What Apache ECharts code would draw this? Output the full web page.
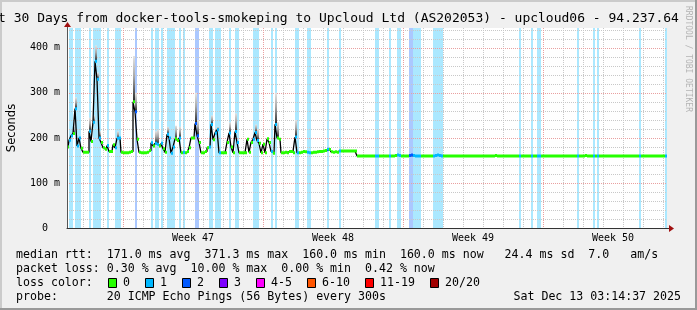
<!DOCTYPE html>
<html><head><meta charset="utf-8">
<script src="https://cdn.jsdelivr.net/npm/echarts@6/dist/echarts.min.js"></script>
<style>html,body{margin:0;padding:0;background:#f0f0f0;overflow:hidden}#c{width:697px;height:310px}</style>
</head><body><div id="c"></div>
<script>
// ---- data ----
// one value per 0.1 day (2.4 h) step, 30 days; median rtt in ms
const STEP_DAYS = 0.1;
const medianMs = [
180,195,205,210,265,182,200,177,168,168,
168,215,192,235,370,330,200,190,178,175,
183,170,170,185,178,199,200,168,167,167,
167,168,170,280,258,197,168,167,167,167,
168,172,189,182,188,186,182,188,176,168,
208,200,166,180,198,194,200,167,168,167,
170,178,200,200,232,205,190,167,167,170,
178,180,230,196,211,218,167,167,167,167,
190,211,180,167,214,190,167,167,167,167,
197,168,190,197,212,194,188,167,186,167,
198,190,170,166,230,200,197,167,167,168,
167,170,170,167,202,167,167,168,170,169,
168,167,167,168,168,169,170,170,171,172,
175,174,169,168,169,168,171,171,171,171,
171,171,171,171,171,160,160,160,160,160,
160,160,160,160,160,160,160,160,160,160,
160,160,160,160,161,162,161,160,160,160,
160,161,162,161,160,160,160,160,160,160,
160,160,160,160,161,162,161,160,160,160,
160,160,160,160,160,160,160,160,160,160,
160,160,160,160,160,160,160,160,160,160,
160,160,160,160,161,160,160,160,160,160,
160,160,160,160,160,160,160,160,160,160,
160,160,160,160,160,160,160,160,160,160,
160,160,160,160,160,160,160,160,160,160,
160,160,160,160,160,160,160,160,160,161,
160,160,160,160,160,160,160,160,160,160,
160,160,160,160,160,160,160,160,160,160,
160,160,160,160,160,160,160,160,160,160,
160,160,160,160,160,160,160,160,160,160
];
// [step index, lost pings out of 20]
const lossEvents = [
[1,1],[2,1],[4,1],[5,1],[6,1],[11,1],[13,1],[14,1],[15,1],[16,1],[20,1],[24,1],[25,1],[26,1],
[34,2],[42,1],[44,1],[45,1],[47,1],[50,1],[51,1],[52,1],[53,1],[56,1],[58,1],[64,2],[65,2],
[71,1],[72,1],[74,1],[75,1],[76,1],[81,1],[84,1],[85,1],[93,1],[94,1],[95,1],[102,1],[104,1],
[114,1],[115,1],[120,1],[121,1],[130,1],[136,1],[154,1],[155,1],[161,1],[165,1],[166,1],
[171,2],[172,2],[173,1],[174,1],[175,1],[176,1],[183,1],[184,1],[185,1],[186,1],[187,1],
[226,1],[232,1],[235,1],[236,1],[255,1],[263,1],[265,1],[286,1],[299,1]
];
// [step index, highest ping of the smoke in ms]
const smokePeaks = [
[3,225],[4,290],[11,245],[13,250],[14,405],[15,345],[16,215],[25,215],[33,382],[34,300],
[44,215],[45,218],[50,225],[54,227],[56,225],[64,300],[65,240],[72,250],[74,222],[75,225],
[81,235],[84,255],[94,230],[95,220],[104,300],[105,235],[114,240]
];
const weekLabels = ['Week 47','Week 48','Week 49','Week 50'];
const weekLabelDays = [6.3, 13.3, 20.3, 27.3];
const weekStartDays = [2.8, 9.8, 16.8, 23.8];
const yTickValues = [0, 100, 200, 300, 400];
const lossLegend = [['0','#26ff00'],['1','#00b8ff'],['2','#0059ff'],['3','#7e00ff'],
  ['4-5','#ff00ff'],['6-10','#ff5500'],['11-19','#ff0000'],['20/20','#a10000']];
const statLines = [
  'median rtt:  171.0 ms avg  371.3 ms max  160.0 ms min  160.0 ms now   24.4 ms sd  7.0   am/s',
  'packet loss: 0.30 % avg  10.00 % max  0.00 % min  0.42 % now'
];
const probeLine = 'probe:       20 ICMP Echo Pings (56 Bytes) every 300s';
const stampText = 'Sat Dec 13 03:14:37 2025';
const titleText = 't 30 Days from docker-tools-smokeping to Upcloud Ltd (AS202053) - upcloud06 - 94.237.64';

// ---- helpers ----
const X_MAX = 30, Y_MAX = 444;
const MONO = '"DejaVu Sans Mono", monospace';
function lossColor(n){
  if (n <= 0) return '#26ff00';
  if (n === 1) return '#00b8ff';
  if (n === 2) return '#0059ff';
  if (n === 3) return '#7e00ff';
  if (n <= 5) return '#ff00ff';
  if (n <= 10) return '#ff5500';
  if (n <= 19) return '#ff0000';
  return '#a10000';
}
function hexToRgba(h, a){
  const r = parseInt(h.slice(1,3),16), g = parseInt(h.slice(3,5),16), b = parseInt(h.slice(5,7),16);
  return 'rgba(' + r + ',' + g + ',' + b + ',' + a + ')';
}
const lossByStep = medianMs.map(() => 0);
lossEvents.forEach(([i, n]) => { lossByStep[i] = n; });

const lossBarData = lossEvents.map(([i, n]) => [i * STEP_DAYS, (i + 1) * STEP_DAYS, n]);
const markerData = medianMs.map((m, i) => [i * STEP_DAYS, (i + 1) * STEP_DAYS, m, lossByStep[i]]);
const lineData = medianMs.map((m, i) => [(i + 0.5) * STEP_DAYS, m]);
const smokeData = smokePeaks.map(([i, top]) => [i * STEP_DAYS, (i + 1) * STEP_DAYS, medianMs[i], top]);

const vMinor = [], vMajor = weekStartDays.slice();
for (let d = 0.8; d < X_MAX; d += 1) { const r = Math.round(d * 10) / 10; if (!vMajor.some(x => Math.abs(x - r) < 1e-6)) vMinor.push(r); }
const hMinor = [], hMajor = [100, 200, 300, 400];
for (let v = 20; v <= 440; v += 20) { if (v % 100) hMinor.push(v); }

function vLine(color){
  return function(params, api){
    const d = api.value(0);
    const a = api.coord([d, Y_MAX]), b = api.coord([d, 0]);
    const x = Math.round(a[0]) + 0.5;
    return {type:'line', shape:{x1:x, y1:a[1], x2:x, y2:b[1]}, style:{stroke:color, lineWidth:1, lineDash:[1,1]}};
  };
}
function hLine(color){
  return function(params, api){
    const v = api.value(0);
    const a = api.coord([0, v]), b = api.coord([X_MAX, v]);
    const y = Math.round(a[1]) + 0.5;
    return {type:'line', shape:{x1:a[0], y1:y, x2:b[0], y2:y}, style:{stroke:color, lineWidth:1, lineDash:[1,1]}};
  };
}

const chart = echarts.init(document.getElementById('c'), null, {renderer:'canvas', width:697, height:310});

const graphics = [
  {type:'rect', shape:{x:0,y:0,width:697,height:2}, style:{fill:'#cbcbcb'}, silent:true},
  {type:'rect', shape:{x:0,y:0,width:2,height:310}, style:{fill:'#cbcbcb'}, silent:true},
  {type:'rect', shape:{x:0,y:308,width:697,height:2}, style:{fill:'#999999'}, silent:true},
  {type:'rect', shape:{x:695,y:0,width:2,height:310}, style:{fill:'#999999'}, silent:true},
  {type:'text', x:-2, y:18.5, style:{text:titleText, fill:'#000', fontFamily:MONO, fontSize:13, align:'left', verticalAlign:'middle'}, silent:true},
  {type:'text', x:688, y:6, rotation:-Math.PI/2, style:{text:'RRDTOOL / TOBI OETIKER', fill:'#b4b4b4', fontFamily:MONO, fontSize:8, align:'left', verticalAlign:'middle'}, silent:true},
  {type:'text', x:16, y:255, style:{text:statLines[0], fill:'#000', fontFamily:MONO, fontSize:11.6, align:'left', verticalAlign:'middle'}, silent:true},
  {type:'text', x:16, y:269, style:{text:statLines[1], fill:'#000', fontFamily:MONO, fontSize:11.6, align:'left', verticalAlign:'middle'}, silent:true},
  {type:'text', x:16, y:283, style:{text:'loss color:', fill:'#000', fontFamily:MONO, fontSize:11.6, align:'left', verticalAlign:'middle'}, silent:true},
  {type:'text', x:16, y:297, style:{text:probeLine, fill:'#000', fontFamily:MONO, fontSize:11.6, align:'left', verticalAlign:'middle'}, silent:true},
  {type:'text', x:681, y:297, style:{text:stampText, fill:'#000', fontFamily:MONO, fontSize:11.6, align:'right', verticalAlign:'middle'}, silent:true}
];
let lx = 108;
lossLegend.forEach(([lab, col]) => {
  graphics.push({type:'rect', shape:{x:lx + 0.5, y:278.5, width:8, height:9}, style:{fill:col, stroke:'#000', lineWidth:1}, silent:true});
  graphics.push({type:'text', x:lx + 15, y:283, style:{text:lab, fill:'#000', fontFamily:MONO, fontSize:11.6, align:'left', verticalAlign:'middle'}, silent:true});
  lx += 30 + 7 * lab.length;
});

const option = {
  backgroundColor:'#f0f0f0',
  animation:false,
  grid:{left:67, right:30, top:28, bottom:82, show:true, backgroundColor:'#ffffff', borderWidth:0,
        containLabel:false, outerBoundsMode:'none'},
  xAxis:{
    type:'value', min:0, max:X_MAX, z:10,
    axisLine:{show:true, onZero:false, lineStyle:{color:'#333333', width:1}},
    axisTick:{show:false},
    splitLine:{show:false},
    axisLabel:{
      customValues: weekLabelDays,
      formatter: v => { const k = weekLabelDays.findIndex(d => Math.abs(d - v) < 1e-6); return k >= 0 ? weekLabels[k] : ''; },
      fontFamily:MONO, fontSize:10, color:'#000', margin:5
    }
  },
  yAxis:{
    type:'value', min:0, max:Y_MAX, interval:100, z:10,
    name:'Seconds', nameLocation:'middle', nameGap:49,
    nameTextStyle:{fontFamily:'"DejaVu Sans", sans-serif', fontSize:11.5, color:'#000'},
    axisLine:{show:true, lineStyle:{color:'#555555', width:1}},
    axisTick:{show:false},
    splitLine:{show:false},
    axisLabel:{
      customValues: yTickValues,
      formatter: v => v === 0 ? '0  ' : (v % 100 === 0 ? v + ' m' : ''),
      fontFamily:MONO, fontSize:10, color:'#000', margin:7
    }
  },
  series:[
    {type:'custom', name:'lossbg', z:1, silent:true, clip:true, data:lossBarData,
      renderItem:(params, api) => {
        const a = api.coord([api.value(0), Y_MAX]), b = api.coord([api.value(1), 0]);
        return {type:'rect', shape:{x:a[0], y:a[1], width:b[0]-a[0], height:b[1]-a[1]},
          style:{fill:hexToRgba(lossColor(api.value(2)), 0.33)}};
      }},
    {type:'custom', name:'vminor', z:2, silent:true, data:vMinor.map(d => [d]), renderItem:vLine('#c8c8c8')},
    {type:'custom', name:'hminor', z:2, silent:true, data:hMinor.map(v => [v]), renderItem:hLine('#c8c8c8')},
    {type:'custom', name:'vmajor', z:2, silent:true, data:vMajor.map(d => [d]), renderItem:vLine('#e9a0a0')},
    {type:'custom', name:'hmajor', z:2, silent:true, data:hMajor.map(v => [v]), renderItem:hLine('#e9a0a0')},
    {type:'custom', name:'smoke', z:3, silent:true, clip:true, data:smokeData,
      renderItem:(params, api) => {
        const a = api.coord([api.value(0), api.value(3)]), b = api.coord([api.value(1), api.value(2)]);
        return {type:'rect', shape:{x:a[0], y:a[1], width:b[0]-a[0], height:b[1]-a[1]},
          style:{fill:new echarts.graphic.LinearGradient(0,0,0,1,[
            {offset:0, color:'#e4e4e4'},{offset:0.45, color:'#a8a8a8'},{offset:1, color:'#262626'}])}};
      }},
    {type:'line', name:'median', z:4, silent:true, data:lineData, step:'middle', symbol:'none',
      lineStyle:{color:'#000', width:1.3}},
    {type:'custom', name:'marker', z:5, silent:true, clip:true, data:markerData,
      renderItem:(params, api) => {
        const a = api.coord([api.value(0), api.value(2)]), b = api.coord([api.value(1), api.value(2)]);
        return {type:'rect', shape:{x:a[0], y:a[1]-1.5, width:b[0]-a[0], height:3},
          style:{fill:lossColor(api.value(3))}};
      }}
  ],
  graphic:{elements:graphics}
};
chart.setOption(option);

// axis arrows placed from the library's own coordinate conversion
const pEnd = chart.convertToPixel({gridIndex:0}, [X_MAX, 0]);
const pTop = chart.convertToPixel({gridIndex:0}, [0, Y_MAX]);
chart.setOption({graphic:{elements:[
  {type:'line', id:'xext', shape:{x1:pEnd[0], y1:pEnd[1]+0.5, x2:pEnd[0]+3, y2:pEnd[1]+0.5}, style:{stroke:'#333', lineWidth:1}, silent:true},
  {type:'polygon', id:'xarrow', shape:{points:[[pEnd[0]+2, pEnd[1]-3],[pEnd[0]+7, pEnd[1]+0.5],[pEnd[0]+2, pEnd[1]+4]]}, style:{fill:'#a01010'}, silent:true},
  {type:'line', id:'yext', shape:{x1:pTop[0]+0.5, y1:pTop[1], x2:pTop[0]+0.5, y2:pTop[1]-2}, style:{stroke:'#555', lineWidth:1}, silent:true},
  {type:'polygon', id:'yarrow', shape:{points:[[pTop[0]-3, pTop[1]-1],[pTop[0]+0.5, pTop[1]-6],[pTop[0]+4, pTop[1]-1]]}, style:{fill:'#a01010'}, silent:true}
]}});
</script>
</body></html>
